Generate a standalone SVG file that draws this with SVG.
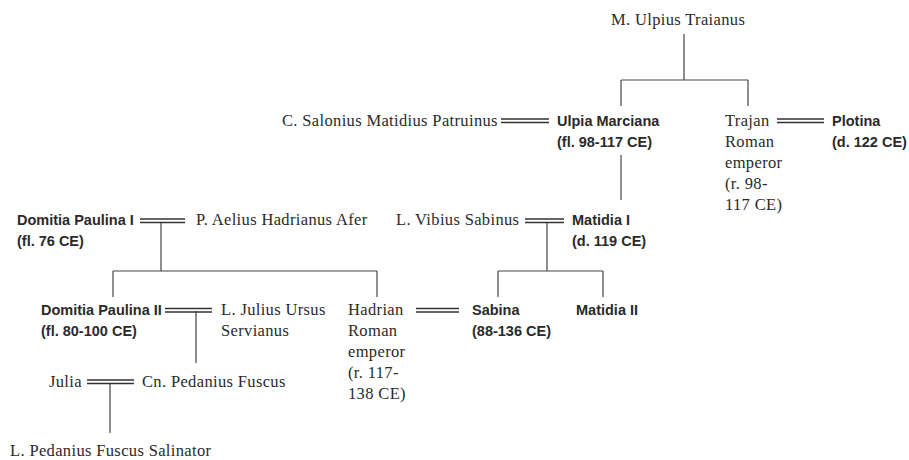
<svg xmlns="http://www.w3.org/2000/svg" width="909" height="460" viewBox="0 0 909 460">
  <style>
    .serif { font-family: "Liberation Serif", "Times New Roman", serif; font-size: 16.5px; letter-spacing: 0.35px; fill: #2a2a2a; }
    .bold { font-family: "Liberation Sans", Arial, sans-serif; font-size: 14.5px; font-weight: bold; fill: #2a2a2a; }
    .line { stroke: #444; stroke-width: 1.2; fill: none; }
    .marry { stroke: #333; stroke-width: 1.4; fill: none; }
  </style>
  <rect width="909" height="460" fill="#ffffff"/>

  <!-- connectors: descent lines and marriage (double) lines -->
  <g id="connectors">
    <!-- M. Ulpius Traianus to children -->
    <path class="line" d="M684,34 V80 M621,80 H748 M621,80 V106 M748,80 V106"/>
    <!-- Ulpia Marciana to Matidia I -->
    <path class="line" d="M621,155 V200"/>
    <!-- Domitia Paulina I + P. Aelius Hadrianus Afer to children -->
    <path class="line" d="M161,222 V271 M113,271 H377 M113,271 V297 M377,271 V297"/>
    <!-- L. Vibius Sabinus + Matidia I to children -->
    <path class="line" d="M547,222 V271 M498,271 H603 M498,271 V297 M603,271 V297"/>
    <!-- Domitia Paulina II + L. Julius Ursus Servianus to Julia -->
    <path class="line" d="M196,311 V363"/>
    <!-- Julia + Cn. Pedanius Fuscus to son -->
    <path class="line" d="M110,383 V433"/>

    <!-- marriages -->
    <path class="marry" d="M501,119 H549 M501,122.5 H549"/>
    <path class="marry" d="M777,119 H824 M777,122.5 H824"/>
    <path class="marry" d="M140,219 H185 M140,222.5 H185"/>
    <path class="marry" d="M525,219 H564 M525,222.5 H564"/>
    <path class="marry" d="M165,308.5 H212 M165,312 H212"/>
    <path class="marry" d="M416,308.5 H459 M416,312 H459"/>
    <path class="marry" d="M87,380 H134 M87,383.5 H134"/>
  </g>

  <g id="m-ulpius-traianus"><text class="serif" x="611" y="25">M. Ulpius Traianus</text></g>

  <g id="c-salonius"><text class="serif" x="282" y="126">C. Salonius Matidius Patruinus</text></g>
  <g id="ulpia-marciana">
    <text class="bold" x="557" y="126">Ulpia Marciana</text>
    <text class="bold" x="557" y="147">(fl. 98-117 CE)</text>
  </g>
  <g id="trajan">
    <text class="serif" x="725" y="126">Trajan</text>
    <text class="serif" x="725" y="147">Roman</text>
    <text class="serif" x="725" y="168">emperor</text>
    <text class="serif" x="725" y="189">(r. 98-</text>
    <text class="serif" x="725" y="210">117 CE)</text>
  </g>
  <g id="plotina">
    <text class="bold" x="832" y="126">Plotina</text>
    <text class="bold" x="832" y="147">(d. 122 CE)</text>
  </g>

  <g id="domitia-paulina-i">
    <text class="bold" x="17" y="225">Domitia Paulina I</text>
    <text class="bold" x="17" y="246">(fl. 76 CE)</text>
  </g>
  <g id="p-aelius"><text class="serif" x="196" y="225">P. Aelius Hadrianus Afer</text></g>
  <g id="l-vibius"><text class="serif" x="396" y="225">L. Vibius Sabinus</text></g>
  <g id="matidia-i">
    <text class="bold" x="572" y="225">Matidia I</text>
    <text class="bold" x="572" y="246">(d. 119 CE)</text>
  </g>

  <g id="domitia-paulina-ii">
    <text class="bold" x="41" y="315">Domitia Paulina II</text>
    <text class="bold" x="41" y="336">(fl. 80-100 CE)</text>
  </g>
  <g id="servianus">
    <text class="serif" x="221" y="315">L. Julius Ursus</text>
    <text class="serif" x="221" y="336">Servianus</text>
  </g>
  <g id="hadrian">
    <text class="serif" x="348" y="315">Hadrian</text>
    <text class="serif" x="348" y="336">Roman</text>
    <text class="serif" x="348" y="357">emperor</text>
    <text class="serif" x="348" y="378">(r. 117-</text>
    <text class="serif" x="348" y="399">138 CE)</text>
  </g>
  <g id="sabina">
    <text class="bold" x="472" y="315">Sabina</text>
    <text class="bold" x="472" y="336">(88-136 CE)</text>
  </g>
  <g id="matidia-ii"><text class="bold" x="576" y="315">Matidia II</text></g>

  <g id="julia"><text class="serif" x="49" y="387">Julia</text></g>
  <g id="cn-pedanius"><text class="serif" x="142" y="387">Cn. Pedanius Fuscus</text></g>
  <g id="l-pedanius"><text class="serif" x="10" y="456">L. Pedanius Fuscus Salinator</text></g>
</svg>
